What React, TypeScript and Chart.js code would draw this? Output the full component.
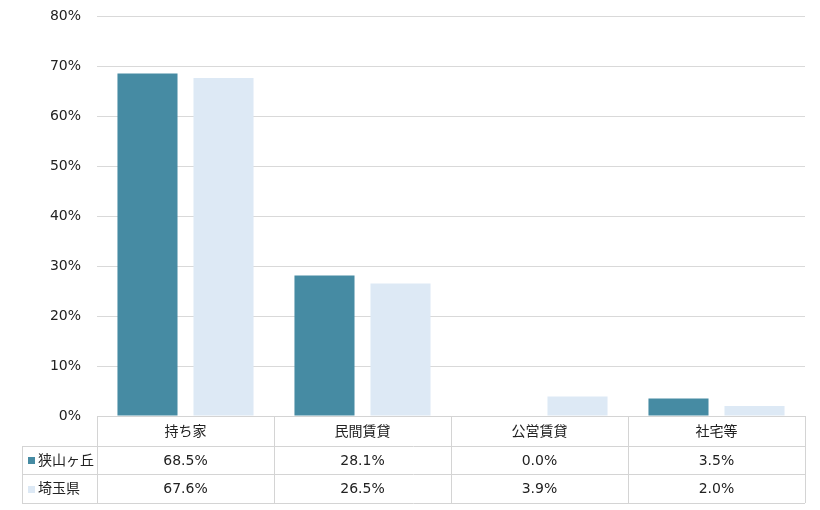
import React, { useEffect, useRef } from "react";
import { Chart, registerables } from "chart.js";

Chart.register(...registerables);

const categories = ["持ち家", "民間賃貸", "公営賃貸", "社宅等"];
const seriesNames = ["狭山ヶ丘", "埼玉県"];
const sayamagaoka = [68.5, 28.1, 0.0, 3.5];
const saitama = [67.6, 26.5, 3.9, 2.0];
const seriesColors = ["#468BA3", "#DDE9F5"];
const yTicks = [0, 10, 20, 30, 40, 50, 60, 70, 80];

const FONT = '"DejaVu Sans", "Noto Sans CJK JP", sans-serif';
const LINE = "#d4d4d4";

const tablePlugin = {
  id: "dataTable",
  afterDraw(chart: any) {
    const ctx = chart.ctx;
    const x = chart.scales.x;
    const area = chart.chartArea;
    const n = categories.length;
    const colW = (area.right - area.left) / n;
    const top = area.bottom;
    const rowH = [30, 28, 29];
    const y1 = top + rowH[0];
    const y2 = y1 + rowH[1];
    const y3 = y2 + rowH[2];
    const leftX = 22;
    ctx.save();
    ctx.strokeStyle = LINE;
    ctx.lineWidth = 1;
    const hl = (xa: number, xb: number, y: number) => {
      ctx.beginPath();
      ctx.moveTo(xa, Math.round(y) + 0.5);
      ctx.lineTo(xb, Math.round(y) + 0.5);
      ctx.stroke();
    };
    const vl = (xx: number, ya: number, yb: number) => {
      ctx.beginPath();
      ctx.moveTo(Math.round(xx) + 0.5, ya);
      ctx.lineTo(Math.round(xx) + 0.5, yb);
      ctx.stroke();
    };
    hl(area.left, area.right, top);
    hl(leftX, area.right, y1);
    hl(leftX, area.right, y2);
    hl(leftX, area.right, y3);
    vl(leftX, y1, y3);
    for (let i = 0; i <= n; i++) {
      vl(area.left + colW * i, top, y3);
    }
    ctx.fillStyle = "#222";
    ctx.font = `14px ${FONT}`;
    ctx.textAlign = "center";
    ctx.textBaseline = "middle";
    for (let i = 0; i < n; i++) {
      const cx = x.getPixelForValue(i);
      ctx.fillText(categories[i], cx, top + rowH[0] / 2 + 1);
      ctx.fillText(sayamagaoka[i].toFixed(1) + "%", cx, y1 + rowH[1] / 2 + 1);
      ctx.fillText(saitama[i].toFixed(1) + "%", cx, y2 + rowH[2] / 2 + 1);
    }
    ctx.textAlign = "left";
    const rowsY = [y1 + rowH[1] / 2, y2 + rowH[2] / 2];
    for (let r = 0; r < 2; r++) {
      ctx.fillStyle = seriesColors[r];
      ctx.fillRect(28, Math.round(rowsY[r]) - 3, 7, 7);
      ctx.fillStyle = "#222";
      ctx.fillText(seriesNames[r], 38, rowsY[r] + 1);
    }
    ctx.restore();
  },
};

export default function App() {
  const ref = useRef<HTMLCanvasElement>(null);
  useEffect(() => {
    document.body.style.margin = "0";
    const chart = new Chart(ref.current!, {
      type: "bar",
      data: {
        labels: categories,
        datasets: [
          {
            label: seriesNames[0],
            data: sayamagaoka,
            backgroundColor: seriesColors[0],
            borderWidth: 0,
            inflateAmount: 0,
            barPercentage: 0.79,
            categoryPercentage: 0.859,
          },
          {
            label: seriesNames[1],
            data: saitama,
            backgroundColor: seriesColors[1],
            borderWidth: 0,
            inflateAmount: 0,
            barPercentage: 0.79,
            categoryPercentage: 0.859,
          },
        ],
      },
      options: {
        animation: false,
        responsive: false,
        devicePixelRatio: 1,
        layout: { padding: { top: 16, right: 15, bottom: 94, left: 0 } },
        plugins: { legend: { display: false }, tooltip: { enabled: false } },
        scales: {
          x: {
            grid: { display: false, drawTicks: false },
            border: { display: false },
            ticks: { display: false },
          },
          y: {
            min: 0,
            max: 80,
            afterFit: (s: any) => {
              s.width = 97;
              s.paddingTop = 0;
              s.paddingBottom = 0;
            },
            afterBuildTicks: (s: any) => {
              s.ticks = yTicks.map((v) => ({ value: v }));
            },
            grid: { color: "#d9d9d9", drawTicks: false, lineWidth: 1 },
            border: { display: false },
            ticks: {
              padding: 16,
              color: "#222",
              font: { family: FONT, size: 14 },
              callback: (v: any) => v + "%",
            },
          },
        },
      },
      plugins: [tablePlugin],
    });
    return () => chart.destroy();
  }, []);
  return (
    <div style={{ position: "absolute", left: 0, top: 0, width: 820, height: 510 }}>
      <canvas ref={ref} width={820} height={510} style={{ width: 820, height: 510 }} />
    </div>
  );
}
